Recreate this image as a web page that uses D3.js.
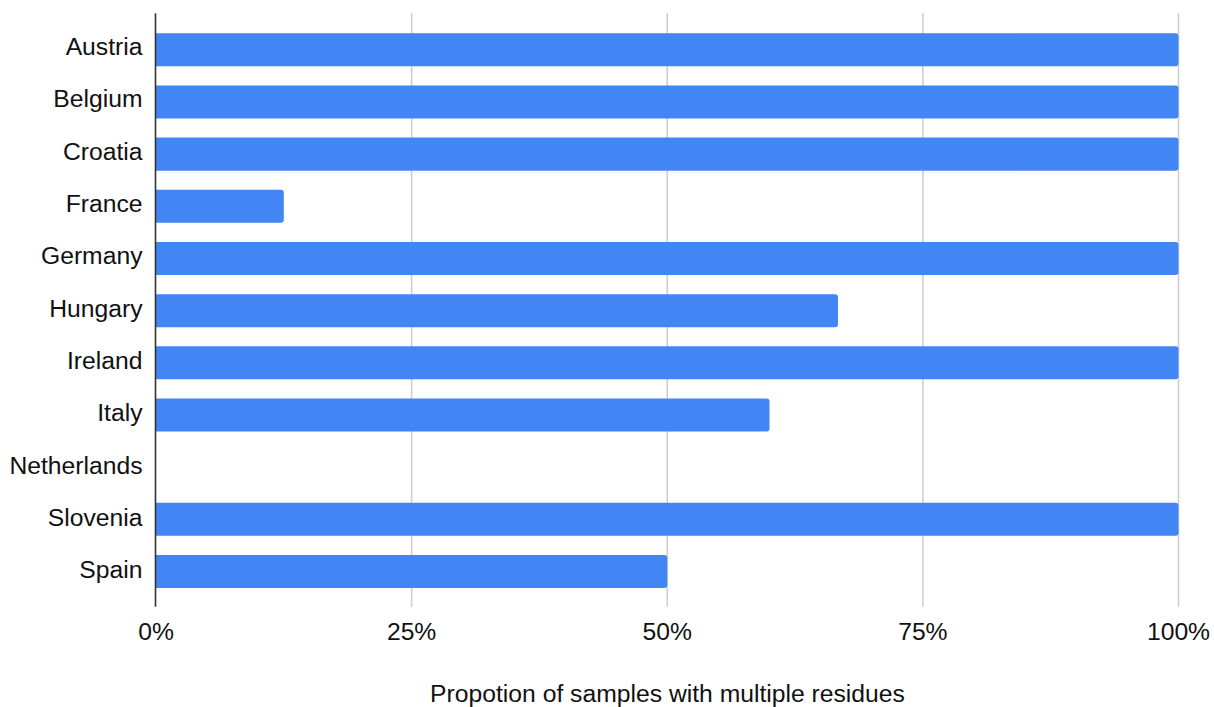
<!DOCTYPE html>
<html>
<head>
<meta charset="utf-8">
<script src="https://cdn.jsdelivr.net/npm/d3@7"></script>
<style>
  html, body { margin: 0; padding: 0; background: #fff; }
  svg { display: block; }
  text { font-family: "Liberation Sans", Arial, sans-serif; fill: #111; }
</style>
</head>
<body>
<svg id="chart" width="1214" height="707"></svg>
<script>
const categories = ["Austria","Belgium","Croatia","France","Germany","Hungary","Ireland","Italy","Netherlands","Slovenia","Spain"];
const values = [1, 1, 1, 0.125, 1, 0.667, 1, 0.6, 0, 1, 0.5];
const tickValues = [0, 0.25, 0.5, 0.75, 1];
const xTitle = "Propotion of samples with multiple residues";

const svg = d3.select("#chart");
const plotTop = 13.3, plotBottom = 606.7;
const fs = 24.7;

const x = d3.scaleLinear().domain([0, 1]).range([156, 1178.5]);
const y = d3.scaleBand().domain(categories).range([23.7, 597.6])
  .paddingInner(0.367).paddingOuter(0.1835);
// label baselines
const yLabel = d3.scalePoint().domain(categories).range([55, 578.3]);

// gridlines
svg.append("g").selectAll("line").data(tickValues.filter(d => d > 0)).join("line")
  .attr("x1", d => x(d)).attr("x2", d => x(d))
  .attr("y1", plotTop).attr("y2", plotBottom)
  .attr("stroke", "#cccccc").attr("stroke-width", 1.5);

// bars with rounded right corners
const r = 3;
svg.append("g").selectAll("path").data(categories.map((c, i) => ({c, v: values[i]}))).join("path")
  .filter(d => d.v > 0)
  .attr("d", d => {
    const x0 = x(0), x1 = x(d.v), y0 = y(d.c), h = y.bandwidth();
    const p = d3.path();
    p.moveTo(x0, y0);
    p.lineTo(x1 - r, y0);
    p.arcTo(x1, y0, x1, y0 + r, r);
    p.lineTo(x1, y0 + h - r);
    p.arcTo(x1, y0 + h, x1 - r, y0 + h, r);
    p.lineTo(x0, y0 + h);
    p.closePath();
    return p.toString();
  })
  .attr("fill", "#4285f4");

// left axis line
svg.append("line")
  .attr("x1", 155.5).attr("x2", 155.5)
  .attr("y1", plotTop).attr("y2", plotBottom)
  .attr("stroke", "#333333").attr("stroke-width", 1.6);

// category labels
svg.append("g").selectAll("text").data(categories).join("text")
  .attr("x", 142.5)
  .attr("y", d => yLabel(d))
  .attr("text-anchor", "end")
  .attr("font-size", fs)
  .text(d => d);

// x tick labels
svg.append("g").selectAll("text").data(tickValues).join("text")
  .attr("x", d => x(d))
  .attr("y", 640)
  .attr("text-anchor", "middle")
  .attr("font-size", fs)
  .text(d => d3.format(".0%")(d));

// x axis title
svg.append("text")
  .attr("x", 667.5)
  .attr("y", 701.5)
  .attr("text-anchor", "middle")
  .attr("font-size", fs)
  .text(xTitle);
</script>
</body>
</html>
